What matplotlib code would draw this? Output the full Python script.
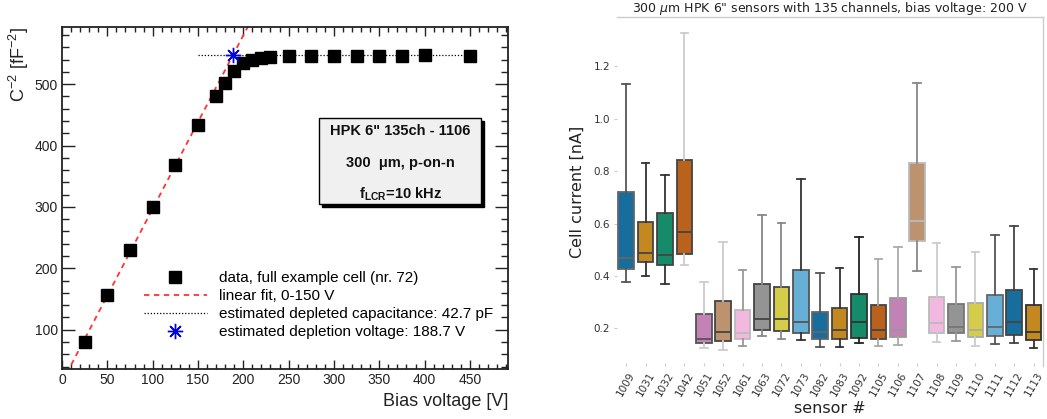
import matplotlib.pyplot as plt
import numpy as np
import seaborn as sns
from matplotlib.lines import Line2D
from matplotlib.patches import Rectangle

# ---- left panel: C^-2 vs bias voltage (ROOT-style) ----
bias_v = [25, 50, 75, 100, 125, 150, 170, 180, 190, 200, 210, 220, 230,
          250, 275, 300, 325, 350, 375, 400, 450]
c_inv2 = [80, 157, 230, 300, 368, 434, 480, 502, 521, 534, 540, 542, 544,
          545, 545, 545, 545, 545, 545, 548, 546]
fit_max_v = 150
depl_voltage = 188.7
depl_level = 548
plateau_range = [150, 450]

# ---- right panel: cell current per sensor ----
sensors = ['1009', '1031', '1032', '1042', '1051', '1052', '1061', '1063', '1072', '1073', '1082',
           '1083', '1092', '1105', '1106', '1107', '1108', '1109', '1110', '1111', '1112', '1113']
whisk_lo = [0.376, 0.400, 0.371, 0.441, 0.124, 0.117, 0.133, 0.172, 0.160, 0.155, 0.128,
            0.128, 0.143, 0.133, 0.136, 0.418, 0.147, 0.152, 0.133, 0.141, 0.143, 0.126]
q1 = [0.427, 0.454, 0.441, 0.484, 0.145, 0.153, 0.158, 0.194, 0.190, 0.183, 0.160,
      0.160, 0.162, 0.158, 0.166, 0.535, 0.181, 0.181, 0.166, 0.172, 0.176, 0.155]
median = [0.469, 0.486, 0.479, 0.568, 0.158, 0.187, 0.181, 0.235, 0.235, 0.225, 0.186,
          0.196, 0.225, 0.196, 0.193, 0.608, 0.220, 0.206, 0.196, 0.206, 0.224, 0.186]
q3 = [0.720, 0.606, 0.640, 0.841, 0.254, 0.305, 0.270, 0.371, 0.358, 0.422, 0.261,
      0.278, 0.333, 0.289, 0.318, 0.832, 0.319, 0.293, 0.298, 0.328, 0.347, 0.289]
whisk_hi = [1.131, 0.831, 0.784, 1.326, 0.378, 0.530, 0.422, 0.632, 0.602, 0.769, 0.412,
            0.431, 0.549, 0.464, 0.509, 1.136, 0.524, 0.435, 0.490, 0.558, 0.592, 0.426]

# line greys differ from box to box in the original
whisk_col = ['#555555', '#333333', '#333333', '#cccccc', '#cccccc', '#cccccc', '#999999', '#888888',
             '#888888', '#333333', '#555555', '#333333', '#222222', '#aaaaaa', '#aaaaaa', '#888888',
             '#cccccc', '#999999', '#cccccc', '#555555', '#444444', '#333333']
edge_col = ['#666666', '#444444', '#444444', '#444444', '#555555', '#444444', '#bbbbbb', '#444444',
            '#444444', '#555555', '#666666', '#444444', '#333333', '#444444', '#999999', '#bbbbbb',
            '#bbbbbb', '#777777', '#aaaaaa', '#666666', '#444444', '#333333']

W, H = 1047, 419
plt.rcParams['mathtext.fontset'] = 'custom'
plt.rcParams['mathtext.rm'] = 'Liberation Sans'
plt.rcParams['mathtext.bf'] = 'Liberation Sans:bold'
plt.rcParams['mathtext.it'] = 'DejaVu Sans:italic'

fig = plt.figure(figsize=(W / 100, H / 100), dpi=100)


def px_axes(left, top, right, bottom):
    return fig.add_axes([left / W, (H - bottom) / H, (right - left) / W, (bottom - top) / H])


# ================= left =================
ax = px_axes(62, 27, 508, 369)
root_font = 'Liberation Sans'

slope, icpt = np.polyfit([v for v in bias_v if v <= fit_max_v],
                         [c for v, c in zip(bias_v, c_inv2) if v <= fit_max_v], 1)
xs = np.array([0, 250])
ax.plot(xs, icpt + slope * xs, color='#ff3333', ls=(0, (3, 2.5)), lw=1.3, zorder=2)
ax.plot(plateau_range, [depl_level, depl_level], color='black', ls=(0, (1, 1.5)), lw=0.9, zorder=2)
ax.plot(bias_v, c_inv2, 's', color='black', ms=8, zorder=3)
ax.plot([depl_voltage], [depl_level], marker=(8, 2, 0), color='#0000ee', ms=11, mew=1.0,
        ls='none', zorder=4)

ax.set_xlim(0, 492)
ax.set_ylim(36, 593)
ax.set_xticks(np.arange(0, 451, 50))
ax.set_xticks(np.arange(0, 491, 10), minor=True)
ax.set_yticks(np.arange(100, 501, 100))
ax.set_yticks(np.arange(40, 593, 20), minor=True)
ax.tick_params(which='both', direction='in', top=True, right=True, colors='#222222',
               labelsize=10, pad=3, width=1.0)
ax.tick_params(axis='x', which='major', length=6.5)
ax.tick_params(axis='x', which='minor', length=3.5)
ax.tick_params(axis='y', which='major', length=9.5)
ax.tick_params(axis='y', which='minor', length=5)
for lab in ax.get_xticklabels() + ax.get_yticklabels():
    lab.set_family(root_font)
for sp in ax.spines.values():
    sp.set_linewidth(1.3)
    sp.set_color('#222222')

ax.set_xlabel('Bias voltage [V]', family=root_font, fontsize=13, color='#222222')
ax.xaxis.set_label_coords(1.0, -0.07)
ax.xaxis.label.set_ha('right')
fig.text(19 / W, (H - 27) / H, 'C$^{-2}$ [fF$^{-2}$]', rotation=90, ha='center', va='top',
         family=root_font, fontsize=13, color='#222222')

# info box with shadow
bx0, bx1 = (319 - 62) / 446, (481 - 62) / 446
by0, by1 = (369 - 204) / 342, (369 - 118) / 342
sx, sy = 3 / 446, 3 / 342
ax.add_patch(Rectangle((bx0 + sx, by0 - sy), bx1 - bx0, by1 - by0, transform=ax.transAxes,
                       facecolor='black', edgecolor='black', zorder=5))
ax.add_patch(Rectangle((bx0, by0), bx1 - bx0, by1 - by0, transform=ax.transAxes,
                       facecolor='#f0f0f0', edgecolor='black', lw=1.0, zorder=6))
bxc = (bx0 + bx1) / 2
box_lines = ['HPK 6" 135ch - 1106', '300  \u03bcm, p-on-n', r'f$_{\mathbf{LCR}}$=10 kHz']
for i, t in enumerate(box_lines):
    ax.text(bxc, (369 - (131 + i * 31.5)) / 342, t, transform=ax.transAxes, ha='center',
            va='center', family=root_font, fontweight='bold', fontsize=10.5, color='#111111',
            zorder=7)

handles = [
    Line2D([], [], marker='s', color='black', ls='none', ms=8),
    Line2D([], [], color='#ff3333', ls=(0, (3, 2.5)), lw=1.3),
    Line2D([], [], color='black', ls=(0, (1, 1.5)), lw=0.9),
    Line2D([], [], marker=(8, 2, 0), color='#0000ee', ls='none', ms=11, mew=1.0),
]
labels = ['data, full example cell (nr. 72)', 'linear fit, 0-150 V',
          'estimated depleted capacitance: 42.7 pF', 'estimated depletion voltage: 188.7 V']
ax.legend(handles, labels, loc='upper left', bbox_to_anchor=(144 / W, (H - 271) / H),
          bbox_transform=fig.transFigure, frameon=False, borderpad=0, borderaxespad=0,
          handlelength=4.1, handletextpad=0.8, labelspacing=0.26,
          prop={'family': root_font, 'size': 11})

# ================= right =================
ax2 = px_axes(616.5, 17.3, 1043.3, 366)
pal = [sns.desaturate(c, 0.75) for c in sns.color_palette('colorblind', 10)]
stats = []
for i, s in enumerate(sensors):
    stats.append(dict(label=s, whislo=whisk_lo[i], q1=q1[i], med=median[i], q3=q3[i],
                      whishi=whisk_hi[i], fliers=[]))
pos = np.arange(len(sensors))
bp = ax2.bxp(stats, positions=pos, widths=0.8, patch_artist=True, showfliers=False)
for i in range(len(sensors)):
    bp['boxes'][i].set(facecolor=pal[i % 10], edgecolor=edge_col[i], linewidth=1.3)
    bp['medians'][i].set(color=edge_col[i], linewidth=1.3)
    for k in (2 * i, 2 * i + 1):
        bp['whiskers'][k].set(color=whisk_col[i], linewidth=1.3)
        bp['caps'][k].set(color=whisk_col[i], linewidth=1.3)

ax2.set_xlim(-0.5, 21.5)
ax2.set_ylim(0.057, 1.386)
ax2.set_yticks([0.2, 0.4, 0.6, 0.8, 1.0, 1.2])
ax2.set_yticklabels(['0.2', '0.4', '0.6', '0.8', '1.0', '1.2'])
ax2.set_xticks(pos)
ax2.set_xticklabels(sensors, rotation=60)
ax2.tick_params(axis='y', length=2.5, color='#cccccc', labelsize=7.5, labelcolor='#333333', pad=2)
ax2.tick_params(axis='x', length=2.5, color='#cccccc', labelsize=7.5, labelcolor='#333333',
                direction='in', pad=3)
for side in ('left', 'bottom'):
    ax2.spines[side].set_visible(False)
for side in ('top', 'right'):
    ax2.spines[side].set_color('#cccccc')
    ax2.spines[side].set_linewidth(1.0)

ax2.set_title('300 $\\mu$m HPK 6" sensors with 135 channels, bias voltage: 200 V',
              fontsize=9, color='#222222', pad=3, family='DejaVu Sans')
ax2.set_ylabel('Cell current [nA]', fontsize=11.5, color='#222222', labelpad=6)
ax2.set_xlabel('sensor #', fontsize=11.5, color='#222222', labelpad=2)

fig.savefig('out.png', dpi=100)
